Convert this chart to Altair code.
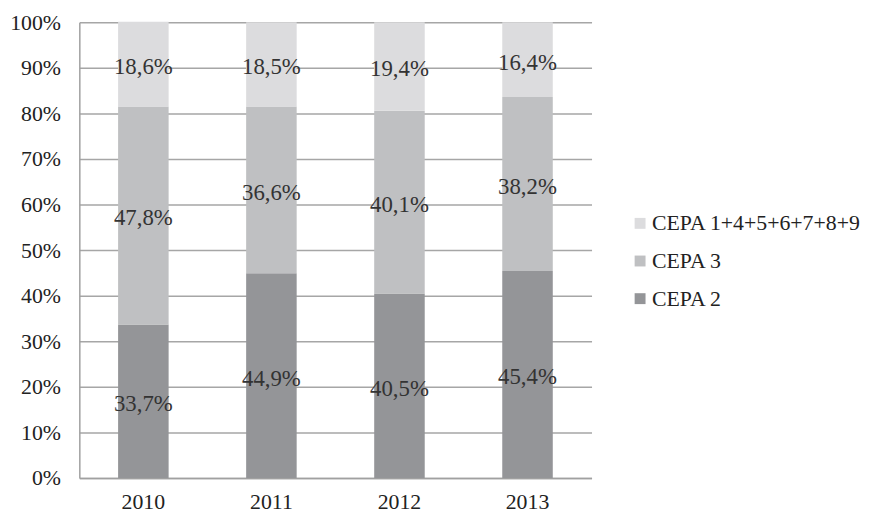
import altair as alt
import pandas as pd

years = ["2010", "2011", "2012", "2013"]
series = ["CEPA 1+4+5+6+7+8+9", "CEPA 3", "CEPA 2"]
cepa2 = [33.7, 44.9, 40.5, 45.4]
cepa3 = [47.8, 36.6, 40.1, 38.2]
cepa_rest = [18.6, 18.5, 19.4, 16.4]
colors = ["#dcdcde", "#bfc0c2", "#949598"]

rows = []
for i, y in enumerate(years):
    for name, vals, order in [("CEPA 2", cepa2, 0), ("CEPA 3", cepa3, 1), ("CEPA 1+4+5+6+7+8+9", cepa_rest, 2)]:
        v = vals[i]
        rows.append({"year": y, "series": name, "value": v / 100.0, "ord": order,
                     "label": f"{v:.1f}".replace(".", ",") + "%"})
df = pd.DataFrame(rows)

FONT = "Liberation Serif"

base = alt.Chart(df).transform_stack(
    stack="value", as_=["y0", "y1"], groupby=["year"], sort=[alt.SortField("ord")]
).transform_calculate(mid="(datum.y0 + datum.y1) / 2")

bars = base.mark_bar(size=51).encode(
    x=alt.X("year:N", title=None, axis=alt.Axis(
        labelAngle=0, labelFont=FONT, labelFontSize=22, labelColor="#222222",
        ticks=False, domainColor="#a0a0a0", domainWidth=1.5, labelPadding=14, grid=False)),
    y=alt.Y("y0:Q", title=None, scale=alt.Scale(domain=[0, 1], nice=False),
            axis=alt.Axis(format=".0%", values=[i / 10 for i in range(11)],
                          labelFont=FONT, labelFontSize=22, labelColor="#222222",
                          ticks=False, labelPadding=19, domainColor="#a0a0a0", domainWidth=1.5,
                          grid=True, gridColor="#a6a6a6", gridWidth=1.5)),
    y2="y1:Q",
    color=alt.Color("series:N", scale=alt.Scale(domain=series, range=colors),
                    legend=alt.Legend(title=None, orient="none", legendX=555, legendY=192,
                                      symbolType="square", symbolSize=121, symbolStrokeWidth=0,
                                      labelFont=FONT, labelFontSize=22, labelColor="#222222",
                                      rowPadding=16, labelOffset=1, labelLimit=400)),
)

texts = base.mark_text(font=FONT, fontSize=23, color="#333333", baseline="middle", dy=3).encode(
    x="year:N",
    y="mid:Q",
    text="label:N",
)

chart = alt.layer(bars, texts).properties(
    width=517, height=460,
    autosize=alt.AutoSizeParams(type="none"),
    padding={"left": 72, "top": 12, "right": 274, "bottom": 36},
).configure_view(stroke=None)

chart.save("out.html", embed_options={"renderer": "svg", "actions": False})
